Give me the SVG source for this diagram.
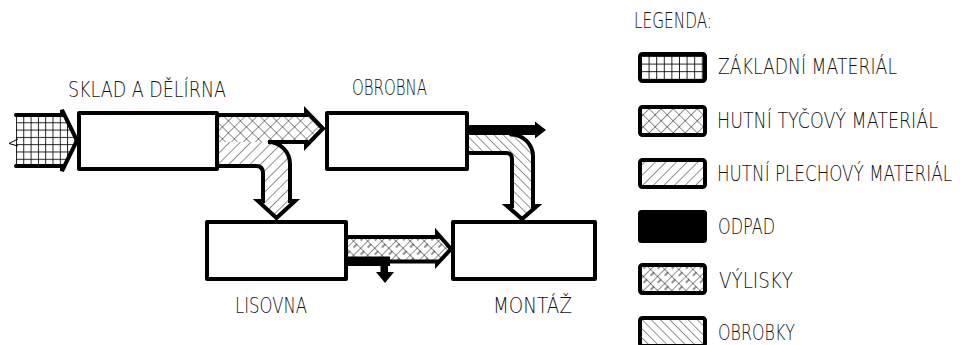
<svg xmlns="http://www.w3.org/2000/svg" width="960" height="345" viewBox="0 0 960 345">
<defs>
<style>
.t{font-family:"DejaVu Sans","Liberation Sans",sans-serif;font-weight:200;font-size:20.5px;fill:#111}
.box{fill:#fff;stroke:#000;stroke-width:4;stroke-linejoin:round}
.ol{fill:none;stroke:#000;stroke-width:4;stroke-linejoin:miter;stroke-linecap:round}
.lg{stroke:#000;stroke-width:4}
.hl{stroke:#000;stroke-width:0.85;fill:none}
</style>
<pattern id="grid" patternUnits="userSpaceOnUse" width="7.3" height="7.3" x="16" y="115"><path class="hl" d="M0.5 0V7.3M0 0.5H7.3"/></pattern>
<pattern id="grid2" patternUnits="userSpaceOnUse" width="7.6" height="7.6" x="641" y="56"><path class="hl" d="M0.5 0V7.6M0 0.5H7.6"/></pattern>
<pattern id="cross" patternUnits="userSpaceOnUse" width="8.5" height="8.5" patternTransform="rotate(45)"><path class="hl" d="M0 0V8.5M0 0H8.5"/></pattern>
<pattern id="fwd" patternUnits="userSpaceOnUse" width="7.5" height="7.5" patternTransform="rotate(45)"><path class="hl" d="M0 0V7.5"/></pattern>
<pattern id="back" patternUnits="userSpaceOnUse" width="6.5" height="6.5" patternTransform="rotate(-45)"><path class="hl" d="M0 0V6.5"/></pattern>
<pattern id="vyl" patternUnits="userSpaceOnUse" width="10" height="10" patternTransform="rotate(45)"><path class="hl" d="M0 0V10M0 0H10M5 0V5"/></pattern>
</defs>
<rect width="960" height="345" fill="#fff"/>

<g id="connectors">
  <!-- input: zakladni material -->
  <path d="M16,115 H62 V110 L77,140.5 L62,171 V166 H16 Z" fill="url(#grid)"/>
  <path class="ol" d="M16,115 H62 V110 L77,140.5 L62,171 V166 H16"/>
  <path d="M18,139 L9,143.5 L18,146" fill="none" stroke="#000" stroke-width="1"/>
  <!-- tycovy + plechovy -->
  <path d="M219,115 H306 V111 L323,128.5 L306,146 V142 H219 Z" fill="url(#cross)"/>
  <path d="M219,142 H268 A22,22 0 0 1 290,164 V201 H295 L276.5,218 L258,201 H263 V173 Q263,166 256,166 H219 Z" fill="url(#fwd)"/>
  <path class="ol" d="M219,115 H306 V111 L323,128.5 L306,146 V142 H268 A22,22 0 0 1 290,164 V201 H295 L276.5,218 L258,201 H263 V173 Q263,166 256,166 H219"/>
  <!-- obrobna: odpad + obrobky -->
  <path d="M469,134.5 H511 A22,22 0 0 1 533,156.5 V206 H537 L522,219 L507,206 H512 V159 Q512,153 506,153 H469 Z" fill="url(#back)"/>
  <path class="ol" d="M469,153 H506 Q512,153 512,159 V206 H507 L522,219 L537,206 H533 V156.5 A22,22 0 0 0 511,134.5"/>
  <rect x="469" y="125" width="68" height="10" fill="#000"/>
  <polygon points="535,121.5 546,130 535,138.5" fill="#000"/>
  <!-- lisovna: vylisky + odpad -->
  <path d="M348,237 H437 V233 L451,249 L437,264 V261 H348 Z" fill="url(#vyl)"/>
  <path class="ol" d="M348,237 H437 V233 L451,249 L437,264 V261.5 H390"/>
  <rect x="347" y="256.5" width="43" height="9.5" fill="#000"/>
  <rect x="380.5" y="264" width="7.5" height="9" fill="#000"/>
  <polygon points="376,272 394,272 385,283" fill="#000"/>
</g>

<g id="sklad">
  <rect class="box" x="79" y="113" width="138" height="56"/>
  <text class="t" transform="translate(68,97) scale(0.81,1)" textLength="195.1" lengthAdjust="spacingAndGlyphs">SKLAD A DĚLÍRNA</text>
</g>
<g id="obrobna">
  <rect class="box" x="327" y="113" width="140" height="56"/>
  <text class="t" transform="translate(352,95) scale(0.81,1)" textLength="92.6" lengthAdjust="spacingAndGlyphs">OBROBNA</text>
</g>
<g id="lisovna">
  <rect class="box" x="207" y="222" width="139" height="57"/>
  <text class="t" transform="translate(235,313) scale(0.81,1)" textLength="88.9" lengthAdjust="spacingAndGlyphs">LISOVNA</text>
</g>
<g id="montaz">
  <rect class="box" x="453" y="222" width="142" height="57"/>
  <text class="t" transform="translate(493,313) scale(0.81,1)" textLength="97.5" lengthAdjust="spacingAndGlyphs">MONTÁŽ</text>
</g>

<g id="legend">
  <text class="t" transform="translate(634,28) scale(0.81,1)" textLength="96.3" lengthAdjust="spacingAndGlyphs">LEGENDA:</text>
  <rect class="lg" x="640" y="54" width="65" height="27" rx="2.5" fill="url(#grid2)"/>
  <text class="t" transform="translate(718,74) scale(0.81,1)" textLength="221" lengthAdjust="spacingAndGlyphs">ZÁKLADNÍ MATERIÁL</text>
  <rect class="lg" x="640" y="107" width="65" height="28" rx="2.5" fill="url(#cross)"/>
  <text class="t" transform="translate(717,128) scale(0.81,1)" textLength="272.8" lengthAdjust="spacingAndGlyphs">HUTNÍ TYČOVÝ MATERIÁL</text>
  <rect class="lg" x="640" y="160" width="65" height="27" rx="2.5" fill="url(#fwd)"/>
  <text class="t" transform="translate(717,181) scale(0.81,1)" textLength="290.1" lengthAdjust="spacingAndGlyphs">HUTNÍ PLECHOVÝ MATERIÁL</text>
  <rect x="638" y="210" width="69" height="33" rx="3.5" fill="#000"/>
  <text class="t" transform="translate(718,234) scale(0.81,1)" textLength="70.4" lengthAdjust="spacingAndGlyphs">ODPAD</text>
  <rect class="lg" x="640" y="265" width="65" height="28" rx="2.5" fill="url(#vyl)"/>
  <text class="t" transform="translate(719,288) scale(0.81,1)" textLength="91.4" lengthAdjust="spacingAndGlyphs">VÝLISKY</text>
  <rect class="lg" x="640" y="318" width="65" height="28" rx="2.5" fill="url(#back)"/>
  <text class="t" transform="translate(718,340) scale(0.81,1)" textLength="95.1" lengthAdjust="spacingAndGlyphs">OBROBKY</text>
</g>
</svg>
